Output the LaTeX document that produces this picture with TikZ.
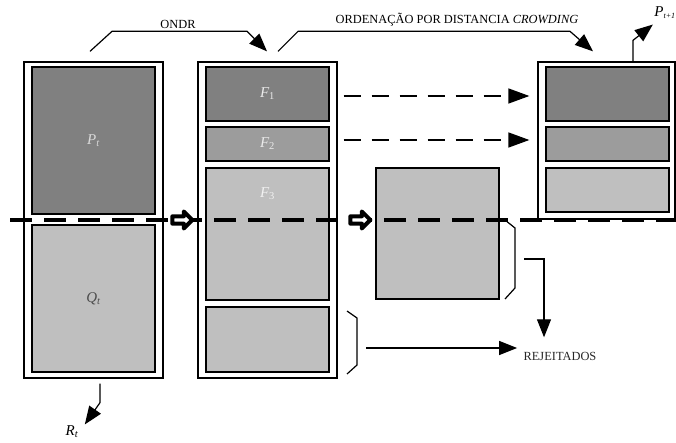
\documentclass[tikz,border=0pt]{standalone}
\usepackage{fontspec}
\setmainfont{Liberation Serif}
\usetikzlibrary{arrows.meta,shapes.arrows}
\definecolor{darkfill}{gray}{0.50}
\definecolor{midfill}{gray}{0.61}
\definecolor{lightfill}{gray}{0.75}
\begin{document}
\begin{tikzpicture}
    [x=1pt,y=-1pt,font=\rmfamily,
     outer/.style={draw,line width=1.3pt,fill=white,inner sep=0pt},
     part/.style={draw,line width=1.3pt,inner sep=0pt,minimum width=123pt},
     lbl/.style={font=\rmfamily\fontsize{15}{17}\selectfont\itshape},
     txt/.style={font=\rmfamily\fontsize{12.4}{14}\selectfont},
     bigarrow/.style={line width=1.2pt,-{Triangle[length=18pt,width=14pt]}},
     dasharrow/.style={line width=1.5pt,dash pattern=on 17pt off 11pt,-{Triangle[length=21pt,width=15pt]}},
     blockarrow/.style={single arrow,draw,fill=white,line width=4pt,line join=round,
        minimum height=20pt,minimum width=17pt,inner sep=1pt,single arrow head extend=4pt}]
    \useasboundingbox (0,0) rectangle (676,443);
    % R_t = P_t + Q_t
    \node[outer,minimum width=139pt,minimum height=316pt] (Rout) at (93.5,220) {};
    \node[part,fill=darkfill,minimum height=147pt,lbl,text=white!85!black] (Pt) at (93.5,140.5) {P\textsubscript{\itshape t}};
    \node[part,fill=lightfill,minimum height=147pt,lbl,text=black!70] (Qt) at (93.5,298.5) {Q\textsubscript{\itshape t}};
    % fronts
    \node[outer,minimum width=139pt,minimum height=316pt] (Mout) at (267.5,220) {};
    \node[part,fill=darkfill,minimum height=54pt,lbl,text=white!92!black] (F1) at (267.5,94) {F\textsubscript{\upshape 1}};
    \node[part,fill=midfill,minimum height=34pt,lbl,text=white!92!black] (F2) at (267.5,144) {F\textsubscript{\upshape 2}};
    \node[part,fill=lightfill,minimum height=132pt,
          label={[lbl,text=white!95!black,anchor=center,yshift=-26pt]north:F\textsubscript{\upshape 3}}] (F3) at (267.5,234) {};
    \node[part,fill=lightfill,minimum height=65pt] (F4) at (267.5,339.5) {};
    % F3 sorted
    \node[part,fill=lightfill,minimum height=131pt] (S3) at (437.5,233.5) {};
    % P_{t+1}
    \node[outer,minimum width=137pt,minimum height=157pt] (Nout) at (606.5,140.5) {};
    \node[part,fill=darkfill,minimum height=54pt] (N1) at (607.5,94) {};
    \node[part,fill=midfill,minimum height=34pt] (N2) at (607.5,144) {};
    \node[part,fill=lightfill,minimum height=44pt] (N3) at (607.5,190) {};
    % cut line
    \draw[line width=3.2pt,dash pattern=on 22pt off 12pt] (10,220) -- (676,220);
    \node[blockarrow] (b1) at (180.5,220) {};
    \node[blockarrow] (b2) at (358.5,220) {};
    % texts
    \node[txt] (ondr) at (178,24) {ONDR};
    \node[txt] (crowd) at (457,20) {ORDENAÇÃO POR DISTANCIA \textit{CROWDING}};
    \node[txt,text=black!85] (rej) at (560,356) {REJEITADOS};
    \node[lbl] (Pn) at (665,13) {P\textsubscript{\itshape\footnotesize t+1}};
    \node[lbl] (Rt) at (72,432) {R\textsubscript{\itshape t}};
    % arrows
    \draw[bigarrow] ([xshift=-3.5pt,yshift=10pt]Rout.north) -- ++(22,-20) -- ++(135,0) -- ([xshift=-0.5pt,yshift=10pt]Mout.north);
    \draw[bigarrow] ([xshift=10.5pt,yshift=10pt]Mout.north) -- ++(20,-20) -- ++(272,0) -- ([xshift=-13.5pt,yshift=10pt]Nout.north);
    \draw[bigarrow] ([xshift=26.5pt]Nout.north) -- ++(0,-21) -- ([xshift=2pt,yshift=-2pt]Pn.south west);
    \draw[bigarrow] ([xshift=6.5pt,yshift=-5pt]Rout.south) -- ++(0,19) -- ([xshift=3pt,yshift=-2pt]Rt.north east);
    \draw[dasharrow] ([xshift=14pt,yshift=-2pt]F1.east) -- ([xshift=-16pt,yshift=-2pt]N1.west);
    \draw[dasharrow] ([xshift=14pt,yshift=4pt]F2.east) -- ([xshift=-16pt,yshift=4pt]N2.west);
    % brackets
    \draw[line width=1.2pt] (505,220) -- (515,228) -- (515,288) -- (505,299);
    \draw[line width=1.2pt] (347,311) -- (357,318) -- (357,365) -- (347,374);
    \coordinate (k1) at (524,259);
    \coordinate (k2) at (366,348);
    \draw[bigarrow] (k1) -| ([xshift=-16pt,yshift=11pt]rej.north);
    \draw[bigarrow] (k2) -- ([xshift=-3pt,yshift=8pt]rej.west);
\end{tikzpicture}
\end{document}
